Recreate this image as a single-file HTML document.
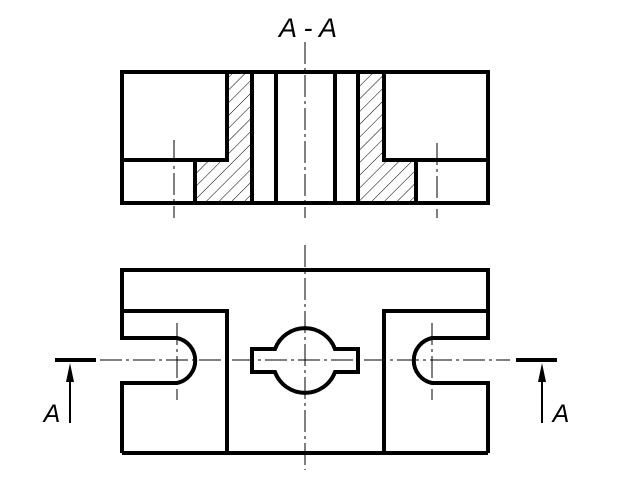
<!DOCTYPE html>
<html><head><meta charset="utf-8"><style>
html,body{margin:0;padding:0;background:#fff;}
svg{display:block;}
</style></head><body>
<svg width="640" height="480" viewBox="0 0 640 480" xmlns="http://www.w3.org/2000/svg">
<defs>
<pattern id="h" patternUnits="userSpaceOnUse" width="9" height="9" patternTransform="rotate(45)">
<line x1="0" y1="0" x2="0" y2="9" stroke="#000" stroke-width="1"/>
</pattern>
</defs>
<text x="308" y="37" font-family="Liberation Sans, sans-serif" font-style="italic" font-size="27" text-anchor="middle">A - A</text>

<g stroke="#000" stroke-width="1" stroke-dasharray="22,4,3,4" fill="none">
<line x1="305" y1="42" x2="305" y2="218"/>
<line x1="174" y1="140" x2="174" y2="218"/>
<line x1="437" y1="143" x2="437" y2="218"/>
<line x1="305" y1="245" x2="305" y2="470"/>
<line x1="100" y1="360" x2="510" y2="360"/>
<line x1="177" y1="323" x2="177" y2="400"/>
<line x1="432" y1="323" x2="432" y2="400"/>
</g>

<polygon points="227,72 252,72 252,203 195,203 195,160 227,160" fill="url(#h)"/>
<polygon points="358,72 384,72 384,160 416,160 416,203 358,203" fill="url(#h)"/>

<g stroke="#000" stroke-width="4" fill="none" stroke-linejoin="miter">
<rect x="122" y="72" width="366" height="131"/>
<polyline points="122,160 227,160 227,72"/>
<line x1="195" y1="160" x2="195" y2="203"/>
<line x1="252" y1="72" x2="252" y2="203"/>
<line x1="276" y1="72" x2="276" y2="203"/>
<line x1="335" y1="72" x2="335" y2="203"/>
<line x1="358" y1="72" x2="358" y2="203"/>
<polyline points="488,160 384,160 384,72"/>
<line x1="416" y1="160" x2="416" y2="203"/>
</g>

<g stroke="#000" stroke-width="4" fill="none">
<path d="M122,270 H488 V311 H384 V453 H227 V311 H122 Z"/>
<path d="M122,453 H227 M122,453 V383 H177 A23,23 0 0 0 177,338 H122 V311"/>
<path d="M488,453 H384 M488,453 V383 H432 A23,23 0 0 1 432,338 H488 V311"/>
<path d="M252,349 H275 A32,32 0 0 1 335,349 H358 V372 H335 A32,32 0 0 1 275,372 H252 Z"/>
</g>

<g stroke="#000" fill="#000">
<line x1="55" y1="360" x2="96" y2="360" stroke-width="4"/>
<line x1="516" y1="360" x2="557" y2="360" stroke-width="4"/>
<line x1="70" y1="423" x2="70" y2="375" stroke-width="2"/>
<line x1="542" y1="423" x2="542" y2="375" stroke-width="2"/>
<polygon points="70,363 66,382 74,382" stroke="none"/>
<polygon points="542,363 538,382 546,382" stroke="none"/>
</g>
<text x="52" y="422" font-family="Liberation Sans, sans-serif" font-style="italic" font-size="25" text-anchor="middle">A</text>
<text x="561" y="422" font-family="Liberation Sans, sans-serif" font-style="italic" font-size="25" text-anchor="middle">A</text>
</svg>
</body></html>
